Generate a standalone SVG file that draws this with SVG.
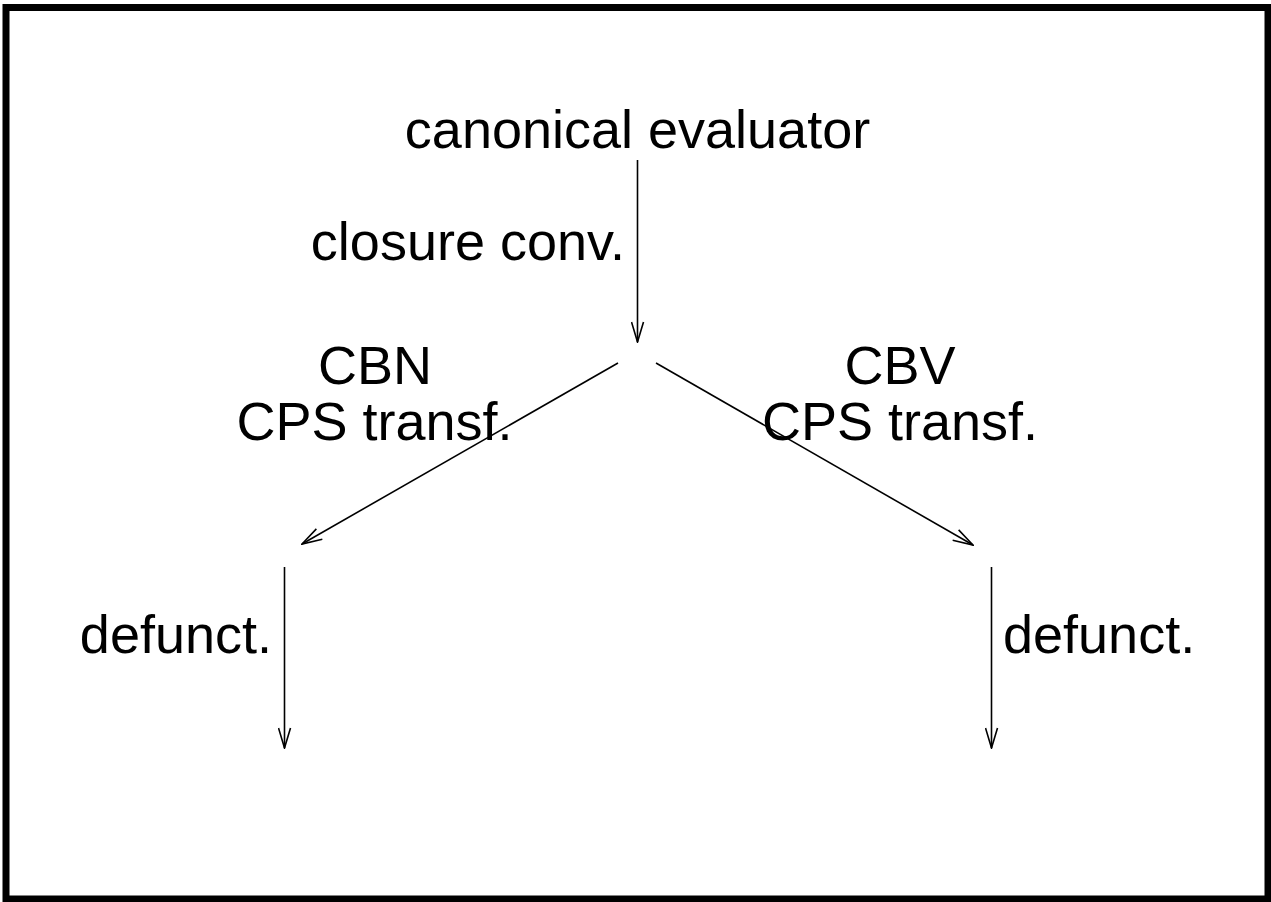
<svg xmlns="http://www.w3.org/2000/svg" width="1271" height="902" viewBox="0 0 1271 902">
  <style>
    .lbl { font-family: "Liberation Sans", Arial, Helvetica, sans-serif; font-size: 54px; fill: #000; }
    .mid { text-anchor: middle; }
    .end { text-anchor: end; }
    .edge { stroke: #000; stroke-width: 1.6; fill: none; marker-end: url(#head); }
  </style>
  <defs>
    <marker id="head" viewBox="0 0 22 14" refX="21" refY="7" markerWidth="22" markerHeight="14" markerUnits="userSpaceOnUse" orient="auto">
      <path d="M1,1 L21,7 L1,13" fill="none" stroke="#000" stroke-width="1.6"/>
    </marker>
  </defs>

  <rect x="0" y="0" width="1271" height="902" fill="#fff"/>
  <rect x="6" y="7.5" width="1262" height="891.5" fill="none" stroke="#000" stroke-width="7"/>

  <g id="connectors">
    <line class="edge" x1="637.5" y1="160" x2="637.5" y2="342"/>
    <line class="edge" x1="618" y1="363" x2="302" y2="544"/>
    <line class="edge" x1="656" y1="363" x2="973" y2="545"/>
    <line class="edge" x1="284.5" y1="567" x2="284.5" y2="748"/>
    <line class="edge" x1="991.5" y1="567" x2="991.5" y2="748"/>
  </g>

  <g id="node-canonical">
    <text class="lbl mid" x="637.5" y="148">canonical evaluator</text>
  </g>
  <g id="label-closure">
    <text class="lbl end" x="625" y="260">closure conv.</text>
  </g>
  <g id="label-cbn">
    <text class="lbl mid" x="375" y="384">CBN</text>
    <text class="lbl mid" x="374.5" y="440">CPS transf.</text>
  </g>
  <g id="label-cbv">
    <text class="lbl mid" x="900" y="384">CBV</text>
    <text class="lbl mid" x="900" y="440">CPS transf.</text>
  </g>
  <g id="label-defunct-left">
    <text class="lbl end" x="272" y="653">defunct.</text>
  </g>
  <g id="label-defunct-right">
    <text class="lbl" x="1003" y="653">defunct.</text>
  </g>
</svg>
